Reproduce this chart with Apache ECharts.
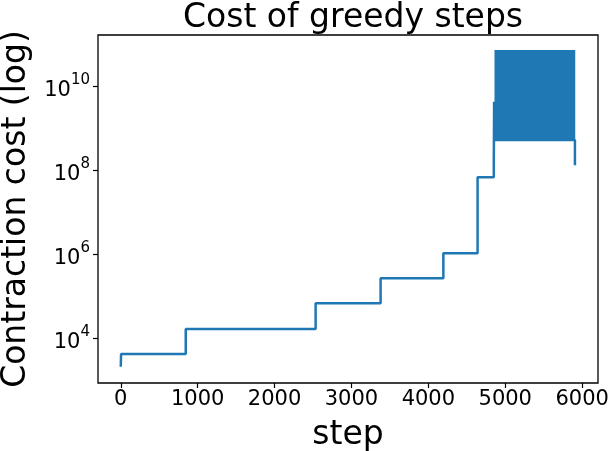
<!DOCTYPE html>
<html>
<head>
<meta charset="utf-8">
<script src="https://cdn.jsdelivr.net/npm/echarts@6/dist/echarts.min.js"></script>
<style>
  html, body { margin: 0; padding: 0; background: #fff; }
  #chart { width: 610px; height: 451px; }
</style>
</head>
<body>
<div id="chart"></div>
<script>
// greedy contraction steps (where the cost changes) and their cost
const stepIdx = [0, 4, 845, 2534, 3379, 4195, 4640, 4851, 4855, 4860, 5906];
const stepCost = [2155, 4330, 17000, 69700, 274000, 1.08e6, 6.97e7, 1.45e8, 4.4e9, 5.4e8, 1.35e8];

// last stretch: cost jumps back and forth between these bounds on every step
const denseSteps = [4860, 5910];
const denseCost = [5.4e8, 7.5e10];

const xTicks = [0, 1000, 2000, 3000, 4000, 5000, 6000];
const yTicks = [1e4, 1e6, 1e8, 1e10];

const blue = '#1f77b4';
const font = 'DejaVu Sans';

let chart = echarts.init(document.getElementById('chart'), null, {renderer: 'canvas'});

let lineData = stepIdx.map((s, i) => [s, stepCost[i]]);

let option = {
  animation: false,
  backgroundColor: '#fff',
  title: {
    text: 'Cost of greedy steps',
    left: 348,
    textAlign: 'center',
    top: -3,
    textStyle: {fontFamily: font, fontSize: 33, fontWeight: 'normal', color: '#000'}
  },
  grid: {
    left: 98, right: 12, top: 35, bottom: 68,
    outerBoundsMode: 'none',
    containLabel: false,
    show: true, borderColor: '#000', borderWidth: 1.3, backgroundColor: 'transparent'
  },
  xAxis: {
    type: 'value',
    min: -296,
    max: 6206,
    name: 'step',
    nameLocation: 'middle',
    nameGap: 36,
    nameTextStyle: {fontFamily: font, fontSize: 33, color: '#000'},
    axisLine: {show: false, onZero: false},
    splitLine: {show: false},
    axisTick: {show: true, length: 5, lineStyle: {color: '#000', width: 1.2}, customValues: xTicks},
    axisLabel: {
      fontFamily: font, fontSize: 21, color: '#000', margin: 6,
      customValues: xTicks,
      formatter: v => String(v)
    }
  },
  yAxis: {
    type: 'log',
    logBase: 10,
    min: 881,
    max: 1.7e11,
    name: 'Contraction cost (log)',
    nameLocation: 'middle',
    nameGap: 64,
    nameTextStyle: {fontFamily: font, fontSize: 33, color: '#000'},
    axisLine: {show: false, onZero: false},
    splitLine: {show: false},
    axisTick: {show: true, length: 5, lineStyle: {color: '#000', width: 1.2}, customValues: yTicks},
    axisLabel: {
      margin: 8,
      customValues: yTicks,
      // base, raised exponent, and a zero-width spacer that makes the line tall
      formatter: v => '{b|10}{s|' + Math.round(Math.log10(v)) + '}{h| }',
      rich: {
        b: {fontFamily: font, fontSize: 21, color: '#000', lineHeight: 21, verticalAlign: 'bottom'},
        s: {fontFamily: font, fontSize: 15, color: '#000', lineHeight: 21, verticalAlign: 'top'},
        h: {fontSize: 1, lineHeight: 29, width: 0}
      }
    }
  },
  series: [
    {
      type: 'line',
      step: 'end',
      data: lineData,
      showSymbol: false,
      lineStyle: {color: blue, width: 2.5},
      z: 2
    },
    {
      type: 'custom',
      data: [[denseSteps[0], denseSteps[1], denseCost[0], denseCost[1]]],
      renderItem: function (params, api) {
        let p0 = api.coord([api.value(0), api.value(3)]);
        let p1 = api.coord([api.value(1), api.value(2)]);
        return {
          type: 'rect',
          shape: {x: p0[0], y: p0[1], width: p1[0] - p0[0], height: p1[1] - p0[1]},
          style: {fill: blue}
        };
      },
      z: 3
    }
  ]
};

chart.setOption(option);
</script>
</body>
</html>
